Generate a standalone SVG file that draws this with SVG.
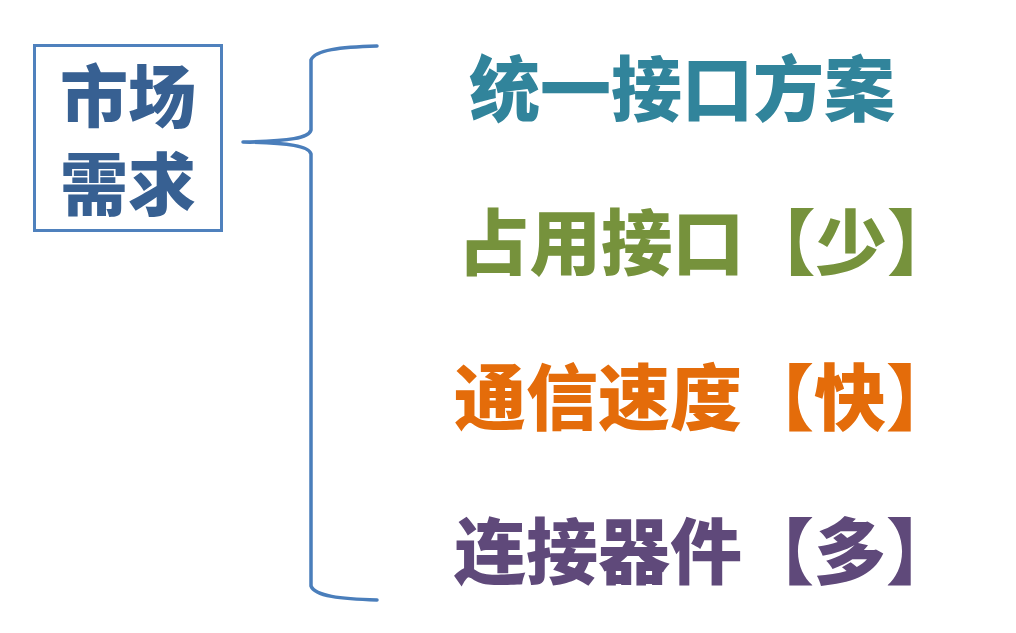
<svg xmlns="http://www.w3.org/2000/svg" width="1016" height="633" viewBox="0 0 1016 633">
<style>
.t{font-family:"Noto Sans CJK SC","Noto Sans CJK TC",sans-serif;font-weight:900;}
.box{fill:#ffffff;stroke:#4F81BD;stroke-width:3;}
.brace{fill:none;stroke:#4A7EBB;stroke-width:3.5;stroke-linecap:round;stroke-linejoin:round;}
</style>
<rect width="1016" height="633" fill="#ffffff"/>
<g id="market-demand">
<rect class="box" x="34.5" y="45.5" width="187" height="185"/>
<text class="t" font-size="68" fill="#376092" text-anchor="middle"><tspan x="128" y="122">市场</tspan><tspan x="128" y="210">需求</tspan></text>
</g>
<g id="connectors">
<path class="brace" d="M377,46 C340,47 315,50 311,60 L311,130 C309,138 290,141 243,142 C290,143 309,146 311,154 L311,586 C315,596 340,599 377,600"/>
</g>
<g id="item-1">
<text class="t" x="469" y="115" font-size="71" fill="#31849B">统一接口方案</text>
</g>
<g id="item-2">
<text class="t" x="458" y="269" font-size="71.5" fill="#76923C">占用接口【少】</text>
</g>
<g id="item-3">
<text class="t" x="454" y="424" font-size="72" fill="#E46C0A">通信速度【快】</text>
</g>
<g id="item-4">
<text class="t" x="454" y="578" font-size="72" fill="#5F497A">连接器件【多】</text>
</g>
</svg>
